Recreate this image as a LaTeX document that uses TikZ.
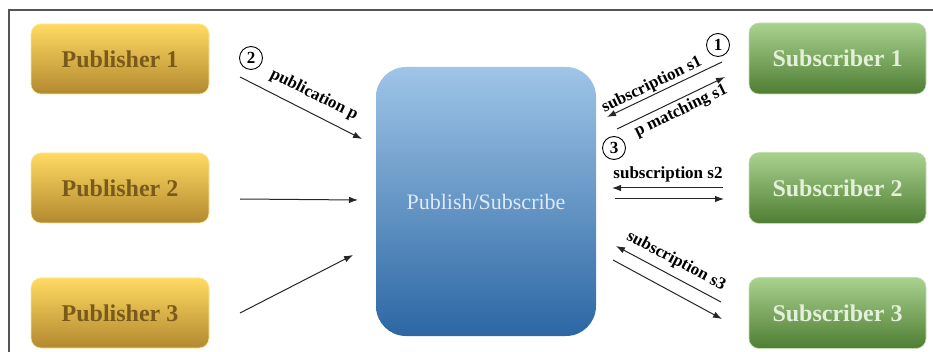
\documentclass[tikz,border=0pt]{standalone}
\usepackage{fontspec}
\setmainfont{Liberation Serif}
\usetikzlibrary{arrows.meta}

\definecolor{pubtop}{HTML}{FFDA62}
\definecolor{pubmid}{HTML}{FFC51C}
\definecolor{pubbot}{HTML}{B2892F}
\definecolor{pubtext}{HTML}{7A5A1A}
\definecolor{subtop}{HTML}{A9D28F}
\definecolor{submid}{HTML}{79B545}
\definecolor{subbot}{HTML}{4F7D33}
\definecolor{subtext}{HTML}{E3F0DA}
\definecolor{hubtop}{HTML}{9FC5E7}
\definecolor{hubmid}{HTML}{5B9BD5}
\definecolor{hubbot}{HTML}{2C67A3}
\definecolor{hubtext}{HTML}{DDEAF7}
\definecolor{framecol}{HTML}{555555}

\tikzset{
  pubbox/.style={rounded corners=10pt, minimum width=178pt, minimum height=70pt,
    top color=pubtop, middle color=pubmid, bottom color=pubbot,
    draw=pubtop!70!white, line width=0.6pt,
    text=pubtext, font=\bfseries\fontsize{24}{28}\selectfont},
  subbox/.style={rounded corners=10pt, minimum width=177pt, minimum height=71pt,
    top color=subtop, middle color=submid, bottom color=subbot,
    draw=subtop!70!white, line width=0.6pt,
    text=subtext, font=\bfseries\fontsize{24}{28}\selectfont},
  hubbox/.style={rounded corners=30pt, minimum width=220pt, minimum height=269pt,
    top color=hubtop, middle color=hubmid, bottom color=hubbot,
    text=hubtext, font=\fontsize{22}{26}\selectfont},
  msg/.style={line width=1pt, draw=black!85, -{Latex[length=9pt,width=6.5pt]}},
  msglabel/.style={font=\bfseries\fontsize{17}{20}\selectfont, inner sep=0pt},
  stepmark/.style={circle, draw, line width=0.9pt, minimum size=23pt, inner sep=0pt,
    font=\bfseries\fontsize{17}{20}\selectfont},
}

\begin{document}
\begin{tikzpicture}[x=1pt, y=-1pt]
  \useasboundingbox (0,0) rectangle (933,352);

  % outer frame (top and left edges)
  \draw[framecol, line width=1.2pt] (9,352) -- (9,10) -- (933,10);

  % publishers, broker, subscribers
  \node[pubbox] (p1) at (120,59)  {Publisher 1};
  \node[pubbox] (p2) at (120,188) {Publisher 2};
  \node[pubbox] (p3) at (120,313) {Publisher 3};

  \node[hubbox] (hub) at (486,201.5) {Publish/Subscribe};

  \node[subbox] (s1) at (837.5,58.5) {Subscriber 1};
  \node[subbox] (s2) at (837.5,188)  {Subscriber 2};
  \node[subbox] (s3) at (837.5,313)  {Subscriber 3};

  % arrow end points
  \coordinate (p1out) at (240,77);   \coordinate (p1in) at (362,139);
  \coordinate (p2out) at (240,199);  \coordinate (p2in) at (358,200);
  \coordinate (p3out) at (240,313);  \coordinate (p3in) at (353,255);

  \coordinate (s1a) at (722,62);     \coordinate (s1b) at (607,117);
  \coordinate (s1c) at (617,129);    \coordinate (s1d) at (725,77);
  \coordinate (s2a) at (723,188);    \coordinate (s2b) at (612,188);
  \coordinate (s2c) at (615,199);    \coordinate (s2d) at (724,199);
  \coordinate (s3a) at (721,302);    \coordinate (s3b) at (616,246);
  \coordinate (s3c) at (613,260);    \coordinate (s3d) at (722,319);

  % publications into the broker
  \draw[msg] (p1out) -- (p1in);
  \draw[msg] (p2out) -- (p2in);
  \draw[msg] (p3out) -- (p3in);

  % subscriptions and notifications
  \draw[msg] (s1a) -- (s1b);
  \draw[msg] (s1c) -- (s1d);
  \draw[msg] (s2a) -- (s2b);
  \draw[msg] (s2c) -- (s2d);
  \draw[msg] (s3a) -- (s3b);
  \draw[msg] (s3c) -- (s3d);

  % labels
  \node[msglabel, rotate=-26.6] (lpub) at (314,95)  {publication p};
  \node[msglabel, rotate=25.8]  (ls1)  at (652,85)  {subscription s1};
  \node[msglabel, rotate=25.9]  (lm1)  at (681,111) {p matching s1};
  \node[msglabel]               (ls2)  at (668,174) {subscription s2};
  \node[msglabel, rotate=-27.9] (ls3)  at (676,261) {subscription s3};

  % step numbers
  \node[stepmark] (n1) at (718,45)  {1};
  \node[stepmark] (n2) at (251,58)  {2};
  \node[stepmark] (n3) at (614,148) {3};
\end{tikzpicture}
\end{document}
